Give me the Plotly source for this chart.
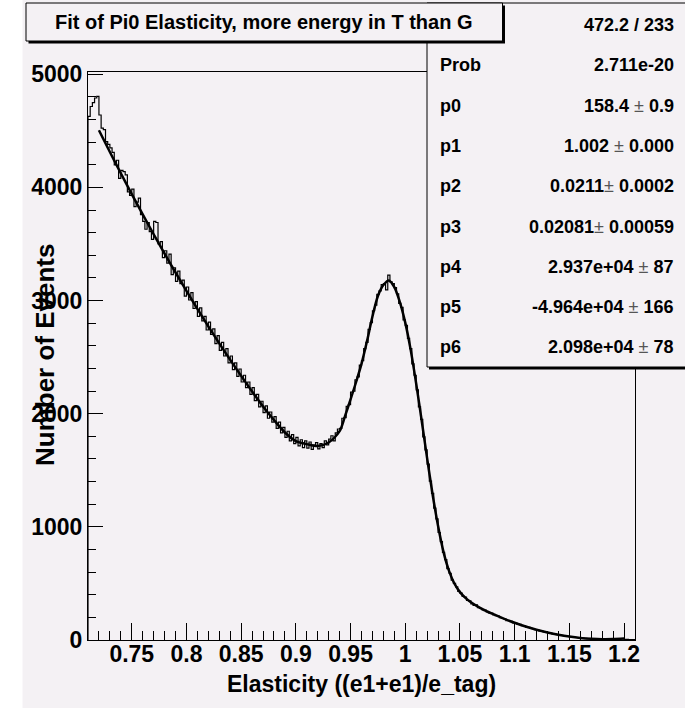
import plotly.graph_objects as go

# ---------------- data ----------------
x_min = 0.71
bin_width = 0.002
counts = [
    4627, 4715, 4750, 4790, 4805,
    4640, 4524, 4510, 4405, 4380,
    4350, 4310, 4200, 4240, 4080,
    4150, 4140, 4110, 3960, 3930,
    3985, 3830, 3870, 3905, 3760,
    3700, 3630, 3690, 3610, 3540,
    3700, 3690, 3500, 3520, 3380,
    3440, 3330, 3410, 3230, 3290,
    3170, 3260, 3150, 3180, 3040,
    3120, 3005, 3070, 2930, 2990,
    2860, 2935, 2820, 2860, 2740,
    2810, 2700, 2750, 2620, 2690,
    2560, 2630, 2510, 2575, 2450,
    2510, 2390, 2450, 2330, 2395,
    2280, 2340, 2230, 2280, 2170,
    2230, 2115, 2170, 2060, 2110,
    2010, 2070, 1960, 2015, 1925,
    1975, 1870, 1925, 1830, 1880,
    1790, 1845, 1760, 1815, 1735,
    1790, 1715, 1770, 1700, 1760,
    1695, 1750, 1685, 1720, 1745,
    1690, 1735, 1700, 1760, 1725,
    1775, 1805, 1760, 1830, 1865,
    1870, 1960, 1965, 2065, 2080,
    2190, 2200, 2300, 2325, 2430,
    2470, 2575, 2630, 2745, 2805,
    2910, 2960, 3055, 3085, 3140,
    3150, 3095, 3225, 3165, 3150,
    3115, 3060, 2975, 2940, 2830,
    2780, 2665, 2575, 2440, 2340,
    2210, 2060, 1950, 1795, 1680,
    1555, 1405, 1295, 1165, 1070,
    950, 870, 775, 710, 630,
    590, 530, 500, 470, 430,
    415, 385, 380, 350, 345,
    320, 305, 310, 285, 280,
    268, 265, 248, 240, 238,
    222, 215, 212, 198, 190,
    188, 172, 170, 165, 152,
    150, 140, 138, 126, 124,
    114, 112, 102, 100, 92,
    90, 80, 79, 72, 69,
    62, 61, 55, 52, 47,
    45, 40, 38, 34, 33,
    28, 27, 23, 22, 20,
    17, 16, 14, 13, 12,
    11, 10, 9, 9, 8,
    8, 7, 8, 7, 8,
    8, 9, 9, 10, 11,
    6, 5, 4, 4, 3,
]

fit_x = [0.72, 0.73, 0.74, 0.75, 0.76, 0.77, 0.78, 0.79, 0.80, 0.81, 0.82, 0.83,
         0.84, 0.85, 0.86, 0.87, 0.88, 0.89, 0.90, 0.91, 0.92, 0.93, 0.94, 0.945,
         0.95, 0.955, 0.96, 0.965, 0.97, 0.975, 0.98, 0.985, 0.99, 0.995, 1.00,
         1.005, 1.01, 1.015, 1.02, 1.025, 1.03, 1.035, 1.04, 1.045, 1.05, 1.055,
         1.06, 1.07, 1.08, 1.09, 1.10, 1.11, 1.12, 1.13, 1.14, 1.15, 1.16, 1.17,
         1.18, 1.19, 1.20]
fit_y = [4505, 4313, 4125, 3941, 3762, 3586, 3415, 3248, 3085, 2927, 2772, 2622,
         2476, 2334, 2196, 2064, 1944, 1834, 1758, 1731, 1714, 1745, 1846, 1981,
         2127, 2278, 2441, 2640, 2859, 3040, 3137, 3178, 3119, 2989, 2805,
         2562, 2265, 1940, 1605, 1286, 1008, 777, 611, 497, 423, 372,
         333, 275, 230, 189, 152, 119, 90, 66, 46, 30, 18, 11,
         7, 8, 13]

x_tick_vals = [0.75, 0.80, 0.85, 0.90, 0.95, 1.00, 1.05, 1.10, 1.15, 1.20]
x_tick_text = ["0.75", "0.8", "0.85", "0.9", "0.95", "1", "1.05", "1.1", "1.15", "1.2"]
y_tick_vals = [0, 1000, 2000, 3000, 4000, 5000]
y_tick_text = ["0", "1000", "2000", "3000", "4000", "5000"]

title_text = "Fit of Pi0 Elasticity, more energy in T than G"
x_title = "Elasticity ((e1+e1)/e_tag)"
y_title = "Number of Events"

stats_labels = ["", "Prob", "p0", "p1", "p2", "p3", "p4", "p5", "p6"]
stats_values = ["472.2 / 233", "2.711e-20", "158.4 ± 0.9", "1.002 ± 0.000",
                "0.0211± 0.0002", "0.02081± 0.00059", "2.937e+04 ± 87",
                "-4.964e+04 ± 166", "2.098e+04 ± 78"]

# ---------------- geometry ----------------
WIDTH, HEIGHT = 685, 708
ML, MR, MT, MB = 88, 50, 72, 68
PW, PH = WIDTH - ML - MR, HEIGHT - MT - MB
PAD = "#f4f1f4"
FONT = "Liberation Sans, Arial, sans-serif"


def px(xp):
    return (xp - ML) / PW


def py(yp):
    return (HEIGHT - MB - yp) / PH


# histogram outline (step)
edges = [x_min + i * bin_width for i in range(len(counts) + 1)]
hx = [edges[0]] + edges[:-1] + [edges[-1], edges[-1]]
hy = [0] + counts + [counts[-1], 0]

fig = go.Figure()
fig.add_trace(go.Scatter(x=hx, y=hy, mode="lines", line=dict(shape="hv", color="black", width=1.2),
                         hoverinfo="skip", showlegend=False))
fig.add_trace(go.Scatter(x=fit_x, y=fit_y, mode="lines",
                         line=dict(shape="spline", smoothing=0.8, color="black", width=2.5),
                         showlegend=False))

shapes = []
shapes.append(dict(type="rect", xref="paper", yref="paper", x0=px(-5), x1=px(22.5), y0=py(720), y1=py(-5),
                   fillcolor="white", line=dict(width=0), layer="below"))
shapes.append(dict(type="rect", xref="paper", yref="paper", x0=px(429), x1=px(700), y0=py(369.5), y1=py(5),
                   fillcolor="black", line=dict(width=0), layer="above"))
shapes.append(dict(type="rect", xref="paper", yref="paper", x0=px(427), x1=px(698), y0=py(367), y1=py(3),
                   fillcolor=PAD, line=dict(color="black", width=1), layer="above"))
shapes.append(dict(type="rect", xref="paper", yref="paper", x0=px(28.5), x1=px(505), y0=py(43.5), y1=py(5.5),
                   fillcolor="black", line=dict(width=0), layer="above"))
shapes.append(dict(type="rect", xref="paper", yref="paper", x0=px(26), x1=px(502.5), y0=py(41), y1=py(3),
                   fillcolor=PAD, line=dict(color="black", width=1), layer="above"))

annotations = []
annotations.append(dict(text="<b>%s</b>" % title_text, xref="paper", yref="paper", x=px(264), y=py(22.5),
                        xanchor="center", yanchor="middle", showarrow=False,
                        font=dict(family=FONT, size=20, color="black")))
row_y0, row_dy = 25, 40.3
for i, (lab, val) in enumerate(zip(stats_labels, stats_values)):
    yy = row_y0 + i * row_dy
    if lab:
        annotations.append(dict(text="<b>%s</b>" % lab, xref="paper", yref="paper", x=px(438), y=py(yy),
                                xanchor="left", yanchor="middle", showarrow=False,
                                font=dict(family=FONT, size=18, color="black")))
    v = val.replace("±", "</b><span style='color:#555555'>±</span><b>")
    annotations.append(dict(text="<b>%s</b>" % v, xref="paper", yref="paper", x=px(676), y=py(yy),
                            xanchor="right", yanchor="middle", showarrow=False,
                            font=dict(family=FONT, size=18, color="black")))
annotations.append(dict(text="<b>%s</b>" % x_title, xref="paper", yref="paper", x=px(361), y=py(684),
                        xanchor="center", yanchor="middle", showarrow=False,
                        font=dict(family=FONT, size=23, color="black")))
annotations.append(dict(text="<b>%s</b>" % y_title, xref="paper", yref="paper", x=px(45), y=py(355),
                        xanchor="center", yanchor="middle", showarrow=False, textangle=-90,
                        font=dict(family=FONT, size=26, color="black")))

fig.update_layout(
    width=WIDTH, height=HEIGHT,
    margin=dict(l=ML, r=MR, t=MT, b=MB, pad=0),
    paper_bgcolor=PAD, plot_bgcolor=PAD,
    shapes=shapes, annotations=annotations,
    showlegend=False,
)
fig.update_xaxes(range=[0.71, 1.21], tickmode="array", tickvals=x_tick_vals, ticktext=x_tick_text,
                 ticks="inside", ticklen=17, tickwidth=1, tickcolor="black", ticklabelstandoff=-7,
                 minor=dict(dtick=0.01, tick0=0.71, ticks="inside", ticklen=9, tickwidth=1, tickcolor="black"),
                 showline=True, linecolor="black", linewidth=1, mirror=True,
                 showgrid=False, zeroline=False,
                 tickfont=dict(family=FONT, size=23, color="black", weight="bold"))
fig.update_yaxes(range=[0, 5020], tickmode="array", tickvals=y_tick_vals, ticktext=y_tick_text,
                 ticks="inside", ticklen=15, tickwidth=1, tickcolor="black",
                 minor=dict(dtick=200, tick0=0, ticks="inside", ticklen=7.5, tickwidth=1, tickcolor="black"),
                 showline=True, linecolor="black", linewidth=1, mirror=True,
                 showgrid=False, zeroline=False,
                 tickfont=dict(family=FONT, size=23, color="black", weight="bold"))

fig.write_html("out.html")
